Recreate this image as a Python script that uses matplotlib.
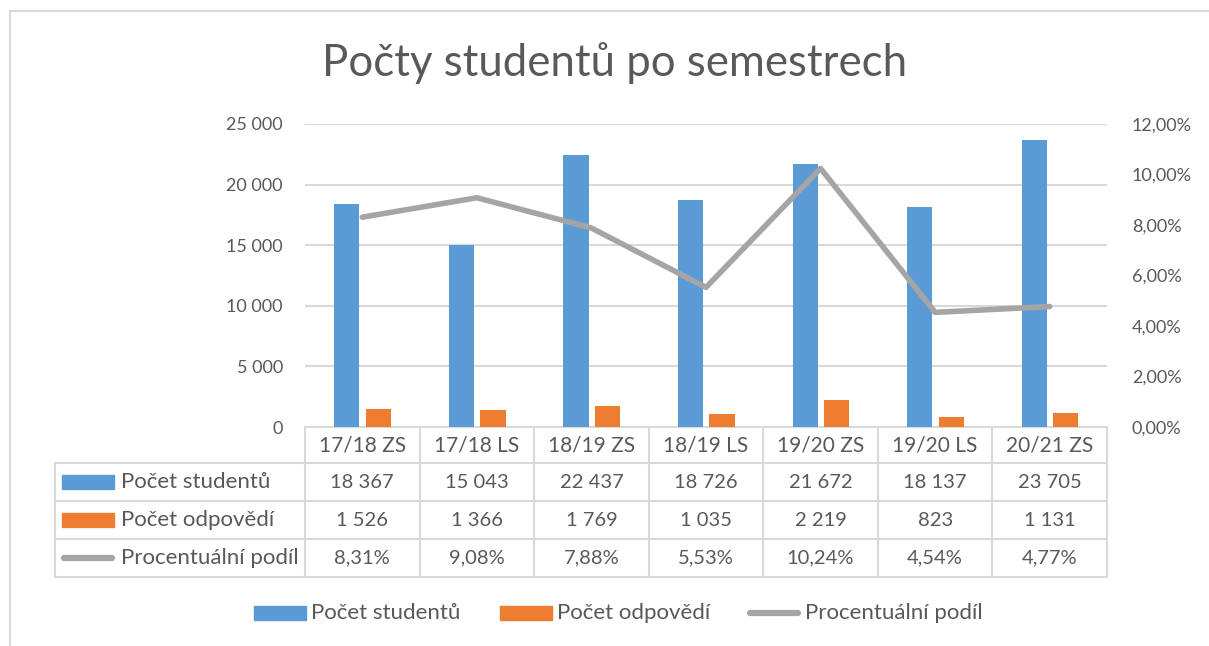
import numpy as np
import matplotlib.pyplot as plt
from matplotlib.patches import Rectangle
from matplotlib.lines import Line2D
from matplotlib.transforms import blended_transform_factory

plt.rcParams['font.family'] = ['Lato', 'DejaVu Sans']

semestry = ["17/18 ZS", "17/18 LS", "18/19 ZS", "18/19 LS", "19/20 ZS", "19/20 LS", "20/21 ZS"]
studenti = [18367, 15043, 22437, 18726, 21672, 18137, 23705]
odpovedi = [1526, 1366, 1769, 1035, 2219, 823, 1131]
podil = [8.31, 9.08, 7.88, 5.53, 10.24, 4.54, 4.77]

series_names = ["Počet studentů", "Počet odpovědí", "Procentuální podíl"]
left_ticks = [0, 5000, 10000, 15000, 20000, 25000]
right_ticks = [0, 2, 4, 6, 8, 10, 12]

BLUE = "#5B9BD5"
ORANGE = "#ED7D31"
GRAY = "#A5A5A5"
TXT = "#595959"
GRID = "#D9D9D9"

W, H = 1209, 646
fig = plt.figure(figsize=(W / 100, H / 100), dpi=100)

# overlay in pixel coordinates (y down) for frame, table and legend
ov = fig.add_axes([0, 0, 1, 1])
ov.set_xlim(0, W); ov.set_ylim(H, 0); ov.axis("off")
ov.plot([10, 10], [11, H], color=GRID, lw=1.5)
ov.plot([10, W], [11, 11], color=GRID, lw=1.5)

x0, x1, ytop, ybot = 305, 1107, 124, 427
ax = fig.add_axes([x0 / W, 1 - ybot / H, (x1 - x0) / W, (ybot - ytop) / H])
x = np.arange(len(semestry))
ax.bar(x - 0.135, studenti, width=0.22, color=BLUE, zorder=3)
ax.bar(x + 0.14, odpovedi, width=0.22, color=ORANGE, zorder=3)
ax.set_xlim(-0.5, len(semestry) - 0.5)
ax.set_ylim(0, 25000)
ax.set_yticks(left_ticks)
ax.set_yticklabels([f"{v:,}".replace(",", " ") for v in left_ticks])
ax.set_xticks([])
ax.grid(axis="y", color=GRID, lw=1.5, zorder=0)
for s in ax.spines.values():
    s.set_visible(False)
ax.tick_params(axis="y", length=0, pad=16, labelsize=13, labelcolor=TXT)

ax2 = ax.twinx()
ax2.plot(x, podil, color=GRAY, lw=4, solid_capstyle="round", zorder=4)
ax2.set_ylim(0, 12)
ax2.set_yticks(right_ticks)
ax2.set_yticklabels([f"{v:.2f}%".replace(".", ",") for v in right_ticks])
for s in ax2.spines.values():
    s.set_visible(False)
ax2.tick_params(axis="y", length=0, pad=18, labelsize=13, labelcolor=TXT)

fig.text(615 / W, 1 - 63 / H, "Počty studentů po semestrech", ha="center", va="center",
         fontsize=31.5, color=TXT)

# data table under the chart
tr = blended_transform_factory(ax.transData, ov.transData)
rows = [427, 463, 501, 539, 577]
lw_t = 1.5
for i in range(len(semestry) + 1):
    ov.plot([i - 0.5, i - 0.5], [rows[0], rows[-1]], color=GRID, lw=lw_t, transform=tr)
ov.plot([-0.5, len(semestry) - 0.5], [rows[0], rows[0]], color=GRID, lw=lw_t, transform=tr)
for r in rows[1:]:
    ov.plot([55, x1], [r, r], color=GRID, lw=lw_t)
ov.plot([55, 55], [rows[1], rows[-1]], color=GRID, lw=lw_t)

for i, lab in enumerate(semestry):
    ov.text(i, (rows[0] + rows[1]) / 2, lab, ha="center", va="center", fontsize=15,
            color=TXT, transform=tr)
    ov.text(i, (rows[1] + rows[2]) / 2, f"{studenti[i]:,}".replace(",", " "), ha="center",
            va="center", fontsize=14.5, color=TXT, transform=tr)
    ov.text(i, (rows[2] + rows[3]) / 2, f"{odpovedi[i]:,}".replace(",", " "), ha="center",
            va="center", fontsize=14.5, color=TXT, transform=tr)
    ov.text(i, (rows[3] + rows[4]) / 2, f"{podil[i]:.2f}%".replace(".", ","), ha="center",
            va="center", fontsize=14.5, color=TXT, transform=tr)

def key(ix, yc, kind, w):
    if kind == "line":
        ov.add_line(Line2D([ix + 2, ix + w - 2], [yc, yc], color=GRAY, lw=4.5, solid_capstyle="round"))
    else:
        ov.add_patch(Rectangle((ix, yc - 7), w, 14, color=BLUE if kind == "blue" else ORANGE))

kinds = ["blue", "orange", "line"]
for j, name in enumerate(series_names):
    yc = (rows[j + 1] + rows[j + 2]) / 2
    key(62, yc, kinds[j], 52)
    ov.text(121, yc, name, ha="left", va="center", fontsize=16, color=TXT)

# legend at bottom
leg_x = [254, 500, 748]
for j, name in enumerate(series_names):
    key(leg_x[j], 613, kinds[j], 52)
    ov.text(leg_x[j] + 57, 613, name, ha="left", va="center", fontsize=16, color=TXT)

fig.savefig("out.png", dpi=100)
